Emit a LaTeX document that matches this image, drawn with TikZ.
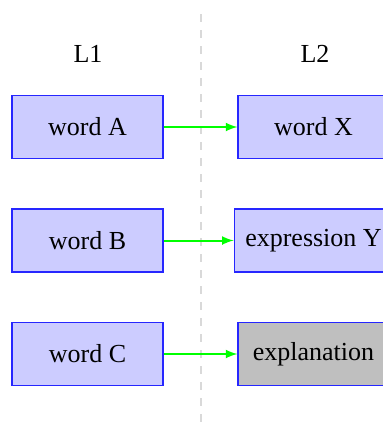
\documentclass[tikz,border=0pt]{standalone}
\usepackage{fontspec}
\setmainfont{Liberation Serif}
\usetikzlibrary{arrows}
\begin{document}
\begin{tikzpicture}[x=0.5pt,y=-0.5pt,
  font=\fontsize{13}{15}\selectfont,
  wordbox/.style={draw=blue!85!white,line width=0.6pt,fill=blue!20,
    minimum width=75.5pt,minimum height=31.5pt,inner xsep=5.5pt,inner ysep=4pt},
  greybox/.style={wordbox,fill=lightgray},
  link/.style={draw=green,line width=1pt,-latex},
  divider/.style={draw=gray!30,line width=1pt,dash pattern=on 4pt off 4pt}]
  \useasboundingbox (0,0) rectangle (383,424);
  % column divider
  \coordinate (top) at (201,14);
  \coordinate (bottom) at (201,424);
  \draw[divider] (top) -- (bottom);
  % column headings
  \node (l1) at (88,54) {L1};
  \node (l2) at (315,54) {L2};
  % left column
  \node[wordbox] (a) at (87.5,127) {word A};
  \node[wordbox] (b) at (87.5,240.5) {word B};
  \node[wordbox] (c) at (87.5,354) {word C};
  % right column
  \node[wordbox] (x) at (313.5,127) {word X};
  \node[wordbox] (y) at (313.5,240.5) {expression Y};
  \node[greybox] (z) at (313.5,354) {explanation};
  % mappings
  \draw[link] (a) -- (x);
  \draw[link] (b) -- (y);
  \draw[link] (c) -- (z);
\end{tikzpicture}
\end{document}
